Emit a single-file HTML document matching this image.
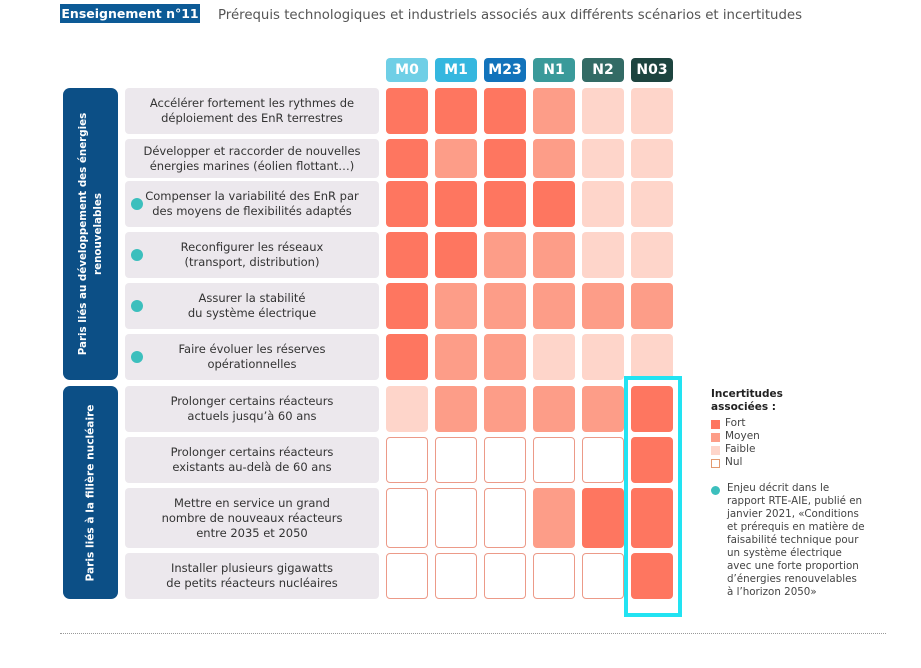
<!DOCTYPE html>
<html><head><meta charset="utf-8"><style>
body{margin:0;width:921px;height:668px;background:#fff;position:relative;font-family:"DejaVu Sans","Liberation Sans",sans-serif;overflow:hidden}
.a{position:absolute}
.lbl{position:absolute;left:125px;width:254px;background:#ece8ed;border-radius:4px;display:flex;align-items:center;justify-content:center;text-align:center;font-size:11.5px;line-height:15px;color:#333}
.c{position:absolute;width:42px;border-radius:4px;box-sizing:border-box}
.F{background:#fe7660}.M{background:#fd9d88}.A{background:#fed5ca}.N{background:#fff;border:1px solid #ec9a88}
.h{position:absolute;top:58px;height:24px;width:42px;border-radius:4px;color:#fff;font-weight:bold;font-size:14px;text-align:center;line-height:24px}
.side{position:absolute;left:63px;width:55px;background:#0c4f86;border-radius:7px}
.vt{position:absolute;left:50%;top:50%;transform:translate(-50%,-50%) rotate(-90deg);color:#fff;font-weight:bold;font-size:11px;line-height:15px;white-space:nowrap;text-align:center}
.dot{position:absolute;left:131px;width:12px;height:12px;border-radius:50%;background:#3cbfbd}
.lg{position:absolute;left:711px;font-size:10.5px;color:#444}
.sq{position:absolute;left:711px;width:9px;height:9px;box-sizing:border-box}
</style></head><body>
<div class="a" style="left:60px;top:4px;width:140px;height:19px;background:#0c5a96;color:#fff;font-weight:bold;font-size:12.5px;line-height:19px;text-align:center">Enseignement n°11</div>
<div class="a" style="left:218px;top:8px;font-size:13.3px;color:#555">Prérequis technologiques et industriels associés aux différents scénarios et incertitudes</div>

<div class="h" style="left:386px;background:#6fcfe6">M0</div>
<div class="h" style="left:435px;background:#35b7df">M1</div>
<div class="h" style="left:484px;background:#1273bb">M23</div>
<div class="h" style="left:533px;background:#3a9a9a">N1</div>
<div class="h" style="left:582px;background:#336b65">N2</div>
<div class="h" style="left:631px;background:#1d443f">N03</div>

<div class="side" style="top:88px;height:292px"><div class="vt" style="font-size:10.3px">Paris liés au développement des énergies<br>renouvelables</div></div>
<div class="side" style="top:386px;height:213px"><div class="vt" style="font-size:10.6px">Paris liés à la filière nucléaire</div></div>

<div id="rows"></div>
<script>
var rows=[[88,46,"Accélérer fortement les rythmes de<br>déploiement des EnR terrestres","FFFMAA",0],
[139,39,"Développer et raccorder de nouvelles<br>énergies marines (éolien flottant…)","FMFMAA",0],
[181,46,"Compenser la variabilité des EnR par<br>des moyens de flexibilités adaptés","FFFFAA",1],
[232,46,"Reconfigurer les réseaux<br>(transport, distribution)","FFMMAA",1],
[283,46,"Assurer la stabilité<br>du système électrique","FMMMMM",1],
[334,46,"Faire évoluer les réserves<br>opérationnelles","FMMAAA",1],
[386,46,"Prolonger certains réacteurs<br>actuels jusqu’à 60 ans","AMMMMF",0],
[437,46,"Prolonger certains réacteurs<br>existants au-delà de 60 ans","NNNNNF",0],
[488,60,"Mettre en service un grand<br>nombre de nouveaux réacteurs<br>entre 2035 et 2050","NNNMFF",0],
[553,46,"Installer plusieurs gigawatts<br>de petits réacteurs nucléaires","NNNNNF",0]];
var h="";
rows.forEach(function(r){
h+='<div class="lbl" style="top:'+r[0]+'px;height:'+r[1]+'px">'+r[2]+'</div>';
if(r[4])h+='<div class="dot" style="top:'+(r[0]+r[1]/2-6)+'px"></div>';
for(var i=0;i<6;i++)h+='<div class="c '+r[3][i]+'" style="left:'+(386+49*i)+'px;top:'+r[0]+'px;height:'+r[1]+'px"></div>';
});
document.getElementById("rows").innerHTML=h;
</script>
<div class="a" style="left:624px;top:376px;width:50px;height:233px;border:4px solid #22e3f2"></div>

<div class="lg" style="top:388px;font-weight:bold;color:#222;line-height:13px">Incertitudes<br>associées :</div>
<div class="sq" style="top:420px;background:#fe7660"></div><div class="lg" style="left:725px;top:417px">Fort</div>
<div class="sq" style="top:433px;background:#fd9d88"></div><div class="lg" style="left:725px;top:430px">Moyen</div>
<div class="sq" style="top:446px;background:#fed5ca"></div><div class="lg" style="left:725px;top:443px">Faible</div>
<div class="sq" style="top:459px;border:1px solid #e39a70"></div><div class="lg" style="left:725px;top:456px">Nul</div>
<div class="a" style="left:711px;top:486px;width:9px;height:9px;border-radius:50%;background:#3cbfbd"></div>
<div class="lg" style="left:727px;top:482px;line-height:13px;font-size:10.3px">Enjeu décrit dans le<br>rapport RTE-AIE, publié en<br>janvier 2021, «Conditions<br>et prérequis en matière de<br>faisabilité technique pour<br>un système électrique<br>avec une forte proportion<br>d’énergies renouvelables<br>à l’horizon 2050»</div>

<div class="a" style="left:60px;top:633px;width:826px;border-top:1px dotted #999"></div>
</body></html>
